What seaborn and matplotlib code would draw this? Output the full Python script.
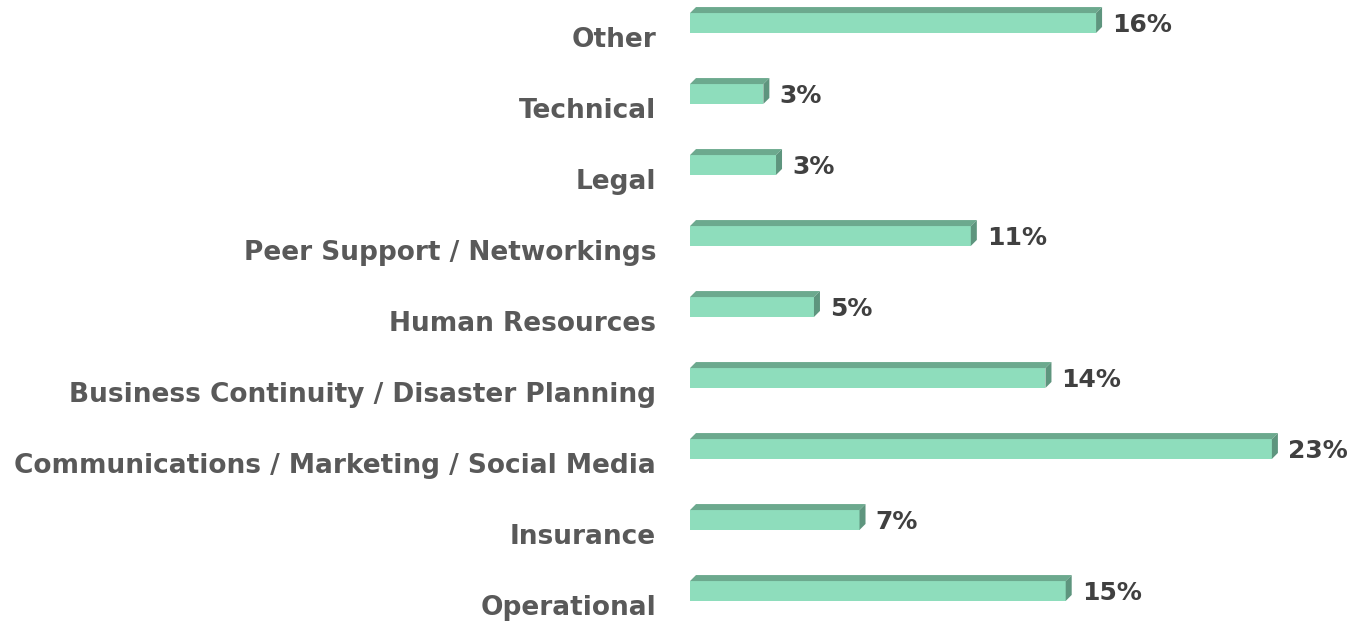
import matplotlib
matplotlib.use("Agg")
import matplotlib.pyplot as plt
from matplotlib.patches import Polygon
import seaborn as sns
import pandas as pd

categories = ["Other", "Technical", "Legal", "Peer Support / Networkings",
              "Human Resources", "Business Continuity / Disaster Planning",
              "Communications / Marketing / Social Media", "Insurance",
              "Operational"]
shares = [16.05, 2.9, 3.4, 11.1, 4.9, 14.05, 23.0, 6.7, 14.85]
value_labels = ["16%", "3%", "3%", "11%", "5%", "14%", "23%", "7%", "15%"]

FRONT = "#8eddbc"
TOP = "#6ca98e"
SIDE = "#5e957e"

df = pd.DataFrame({"category": categories, "share": shares})

sns.set_theme(style="white")
plt.rcParams["font.family"] = ["DejaVu Sans"]

W, H, DPI = 1350, 623, 100
fig = plt.figure(figsize=(W / DPI, H / DPI), dpi=DPI)
ax = fig.add_axes([690 / W, 0, 1 - 690 / W, 1])

sns.barplot(data=df, y="category", x="share", order=categories,
            color=FRONT, saturation=1, width=0.28, ax=ax, linewidth=0)

px_per_unit = 25.3
ax.set_xlim(0, (W - 690) / px_per_unit)
ax.set_ylim(8 + 32 / 71, -23 / 71)

# pixel -> data units for the 3D depth
dx = 6 / px_per_unit
dy = 6 / 71

for bar in ax.patches[:]:
    x0, y0 = bar.get_x(), bar.get_y()
    w, h = bar.get_width(), bar.get_height()
    # y axis inverted: y0 is the visual top edge
    top = Polygon([(x0, y0), (x0 + dx, y0 - dy), (x0 + w + dx, y0 - dy), (x0 + w, y0)],
                  closed=True, facecolor=TOP, edgecolor="none")
    side = Polygon([(x0 + w, y0), (x0 + w + dx, y0 - dy), (x0 + w + dx, y0 + h - dy), (x0 + w, y0 + h)],
                   closed=True, facecolor=SIDE, edgecolor="none")
    ax.add_patch(top)
    ax.add_patch(side)

for i, (v, lab) in enumerate(zip(shares, value_labels)):
    ax.annotate(lab, xy=(v, i), xytext=(16, -2), textcoords="offset pixels",
                ha="left", va="center", fontsize=18, fontweight="bold", color="#404040")
    ax.annotate(categories[i], xy=(0, i), xycoords=("axes fraction", "data"),
                xytext=(-34, -17), textcoords="offset pixels",
                ha="right", va="center", fontsize=19, fontweight="bold", color="#595959",
                annotation_clip=False)

ax.set_yticks([])
ax.set_xticks([])
ax.set_xlabel("")
ax.set_ylabel("")
sns.despine(ax=ax, left=True, bottom=True)

fig.savefig("out.png", dpi=DPI)
